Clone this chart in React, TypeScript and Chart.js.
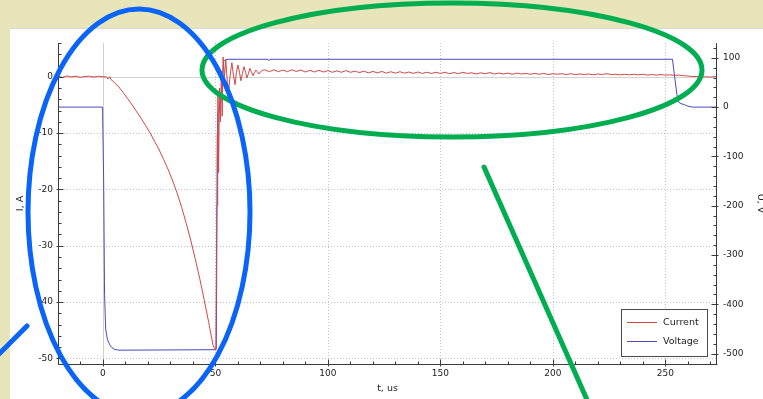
import { useEffect, useRef } from 'react';
import { Chart, registerables } from 'chart.js';

Chart.register(...registerables);

// ---- Current (I, A) ----
const currentPreT = [-20, -18, -16, -14, -12, -10, -8, -6, -4, -2, 0, 1.5, 2.2, 3, 3.6, 5, 7, 9, 11, 13, 15, 17, 19, 21, 23, 25, 27, 29, 31, 33, 35, 37, 39, 41, 43, 45, 47, 49, 50.2];
const currentPreI = [0.1, -0.1, 0.15, 0.0, 0.1, -0.1, 0.05, 0.1, -0.05, 0.1, 0.0, 0.0, -0.4, 0.0, -0.5, -1.0, -1.8, -2.8, -3.9, -5.0, -6.2, -7.4, -8.7, -10.0, -11.5, -13.0, -14.7, -16.5, -18.5, -20.7, -23.2, -26.0, -29.0, -32.3, -35.8, -39.6, -43.6, -47.8, -48.6];

const currentRingT = [50.8, 51.1, 51.4, 51.8, 52.2, 52.6, 53.0, 53.4, 54.0, 54.6, 55.3, 56.0, 56.6, 57.3, 58.0, 58.7, 59.3, 60.0, 60.7, 61.3, 62.0, 62.7, 63.4, 64.0, 64.7, 65.3, 66.0, 66.7, 67.4, 68.0, 68.7, 69.3, 70.0, 71.0];
const currentRingI = [-10, -3, -17, -2, -8, 1, -7, 3.5, 0, 3.0, -1.0, -2.0, 0.5, 2.5, 0.3, -1.4, 0.7, 2.1, 0.8, -0.7, 0.6, 1.8, 0.8, -0.2, 0.6, 1.5, 0.9, 0.2, 0.8, 1.2, 0.9, 0.5, 0.9, 1.15];

const currentSteadyT = [72, 74, 76, 78, 80, 82, 84, 86, 88, 90, 92, 94, 96, 98, 100, 102, 104, 106, 108, 110, 112, 114, 116, 118, 120, 122, 124, 126, 128, 130, 132, 134, 136, 138, 140, 142, 144, 146, 148, 150, 152, 154, 156, 158, 160, 162, 164, 166, 168, 170, 172, 174, 176, 178, 180, 182, 184, 186, 188, 190, 192, 194, 196, 198, 200, 202, 204, 206, 208, 210, 212, 214, 216, 218, 220, 222, 224, 226, 228, 230, 232, 234, 236, 238, 240, 242, 244, 246, 248, 250, 252, 254, 256, 258, 260, 262, 264, 266, 268, 270, 272, 273];
const currentSteadyI = [1.25, 0.9, 1.25, 0.9, 1.2, 0.9, 1.25, 0.95, 1.2, 0.85, 1.15, 0.85, 1.15, 0.85, 1.1, 0.8, 1.05, 0.8, 1.1, 0.8, 1.0, 0.75, 1.0, 0.7, 0.95, 0.7, 0.95, 0.65, 0.9, 0.65, 0.9, 0.65, 0.85, 0.6, 0.85, 0.6, 0.8, 0.6, 0.8, 0.6, 0.8, 0.55, 0.75, 0.55, 0.8, 0.6, 0.7, 0.5, 0.7, 0.55, 0.75, 0.5, 0.65, 0.5, 0.65, 0.45, 0.65, 0.5, 0.6, 0.45, 0.6, 0.45, 0.6, 0.4, 0.55, 0.45, 0.55, 0.4, 0.55, 0.4, 0.5, 0.4, 0.5, 0.35, 0.5, 0.4, 0.55, 0.4, 0.45, 0.35, 0.45, 0.35, 0.45, 0.35, 0.45, 0.3, 0.4, 0.3, 0.4, 0.3, 0.35, 0.25, 0.3, 0.2, 0.15, 0.05, 0.05, -0.05, 0.0, -0.05, 0.05, 0.0];

// ---- Voltage (U, V) ----
const voltageT = [-20, -0.2, 0.3, 0.7, 1.2, 2, 3, 4, 5, 7, 50, 50.4, 50.7, 51.0, 51.5, 52.3, 52.8, 53.2, 53.6, 54.5, 56, 73.3, 73.8, 74.3, 253.2, 254.2, 255.2, 256, 257, 258.5, 260, 262, 273];
const voltageV = [0, 0, -150, -380, -450, -472, -482, -488, -491, -493, -492, -489, -200, -12, -8, 12, 18, 60, 92, 96, 97, 97, 94, 97, 97, 60, 25, 10, 7, 5, 2, 0, 0];

// ---- axes ----
const xRange = [-20, 273];
const yLeftRange = [-51, 6];
const yRightRange = [-521, 130];
const xMajorTicks = [0, 50, 100, 150, 200, 250];
const yLeftMajorTicks = [-50, -40, -30, -20, -10, 0];
const yRightMajorTicks = [-500, -400, -300, -200, -100, 0, 100];

const seriesLabels = ['Current', 'Voltage'];
const RED = '#d04848';
const BLUE = '#4a4ac4';
const FONT = '"DejaVu Sans", Verdana, sans-serif';
const TEXT = '#222222';

function zip(t: number[], v: number[]) {
  return t.map((x, i) => ({ x, y: v[i] }));
}

function minorValues(lo: number, hi: number, step: number) {
  const out: number[] = [];
  const start = Math.ceil(lo / step) * step;
  for (let v = start; v <= hi + 1e-9; v += step) out.push(Math.round(v * 1000) / 1000);
  return out;
}

const decorPlugin = {
  id: 'decor',
  beforeDraw(chart: any) {
    const { ctx, width, height } = chart;
    ctx.save();
    ctx.fillStyle = '#e7e5b9';
    ctx.fillRect(0, 0, width, height);
    ctx.fillStyle = '#ffffff';
    ctx.fillRect(10, 28, width - 10, height - 28);
    ctx.fillStyle = '#d8d8d8';
    ctx.fillRect(10, 28, width - 10, 1);
    ctx.restore();
  },
  beforeDatasetsDraw(chart: any) {
    const { ctx, chartArea: a, scales } = chart;
    ctx.save();
    ctx.lineWidth = 1;
    for (const v of xMajorTicks) {
      const px = Math.round(scales.x.getPixelForValue(v)) + 0.5;
      ctx.setLineDash(v === 0 ? [] : [1, 2]);
      ctx.strokeStyle = v === 0 ? '#d2d2d2' : '#c4c4c4';
      ctx.beginPath();
      ctx.moveTo(px, a.top);
      ctx.lineTo(px, a.bottom);
      ctx.stroke();
    }
    for (const v of yLeftMajorTicks) {
      const py = Math.round(scales.y.getPixelForValue(v)) + 0.5;
      ctx.setLineDash(v === 0 ? [] : [1, 2]);
      ctx.strokeStyle = v === 0 ? '#d2d2d2' : '#c4c4c4';
      ctx.beginPath();
      ctx.moveTo(a.left, py);
      ctx.lineTo(a.right, py);
      ctx.stroke();
    }
    ctx.restore();
  },
  afterDatasetsDraw(chart: any) {
    const { ctx, chartArea: a, scales } = chart;
    ctx.save();
    ctx.setLineDash([]);
    ctx.lineWidth = 1;
    ctx.strokeStyle = '#3a3a3a';
    const L = Math.round(a.left) + 0.5;
    const R = Math.round(a.right) - 0.5;
    const B = Math.round(a.bottom) + 0.5;
    ctx.beginPath();
    ctx.moveTo(L, a.top);
    ctx.lineTo(L, B);
    ctx.lineTo(R + 1, B);
    ctx.moveTo(R, a.top);
    ctx.lineTo(R, B);
    ctx.stroke();
    // ticks
    ctx.beginPath();
    for (const v of minorValues(xRange[0], xRange[1], 10)) {
      const px = Math.round(scales.x.getPixelForValue(v)) + 0.5;
      const major = xMajorTicks.includes(v);
      ctx.moveTo(px, B - (major ? 5 : 3));
      ctx.lineTo(px, B + (major ? 2 : 0));
    }
    for (const v of minorValues(yLeftRange[0], yLeftRange[1], 2)) {
      const py = Math.round(scales.y.getPixelForValue(v)) + 0.5;
      const major = yLeftMajorTicks.includes(v);
      ctx.moveTo(L - (major ? 2 : 0), py);
      ctx.lineTo(L + (major ? 5 : 3), py);
    }
    for (const v of minorValues(yRightRange[0], yRightRange[1], 20)) {
      const py = Math.round(scales.y1.getPixelForValue(v)) + 0.5;
      const major = yRightMajorTicks.includes(v);
      ctx.moveTo(R - (major ? 5 : 3), py);
      ctx.lineTo(R + (major ? 2 : 0), py);
    }
    ctx.stroke();

    // legend box
    const bx = 621.5, by = 309.5, bw = 86, bh = 47;
    ctx.fillStyle = '#ffffff';
    ctx.fillRect(bx, by, bw, bh);
    ctx.strokeStyle = '#4a4a4a';
    ctx.strokeRect(bx, by, bw, bh);
    const ds = chart.data.datasets;
    const rows = [322.5, 341.5];
    ctx.font = `9.5px ${FONT}`;
    ctx.textBaseline = 'middle';
    ctx.textAlign = 'left';
    ds.forEach((d: any, i: number) => {
      ctx.strokeStyle = d.borderColor;
      ctx.lineWidth = 1;
      ctx.beginPath();
      ctx.moveTo(627, rows[i]);
      ctx.lineTo(657, rows[i]);
      ctx.stroke();
      ctx.fillStyle = TEXT;
      ctx.fillText(d.label, 663, rows[i]);
    });
    ctx.restore();
  },
  afterDraw(chart: any) {
    const { ctx } = chart;
    ctx.save();
    ctx.lineWidth = 5;
    ctx.lineCap = 'round';
    ctx.strokeStyle = '#00ad50';
    ctx.beginPath();
    ctx.ellipse(452, 70, 250, 67, 0, 0, Math.PI * 2);
    ctx.stroke();
    ctx.beginPath();
    ctx.moveTo(484, 167);
    ctx.lineTo(588, 402);
    ctx.stroke();
    ctx.strokeStyle = '#0a64f8';
    ctx.beginPath();
    ctx.ellipse(139, 212, 111, 203, 0, 0, Math.PI * 2);
    ctx.stroke();
    ctx.beginPath();
    ctx.moveTo(-2, 355);
    ctx.lineTo(27, 326);
    ctx.stroke();
    ctx.restore();
  },
};

export default function App() {
  const ref = useRef<HTMLCanvasElement | null>(null);
  useEffect(() => {
    if (!ref.current) return;
    const tickFont = { family: FONT, size: 9 };
    const titleFont = { family: FONT, size: 9.5 };
    const chart = new Chart(ref.current, {
      type: 'line',
      data: {
        datasets: [
          {
            label: seriesLabels[0],
            data: [...zip(currentPreT, currentPreI), ...zip(currentRingT, currentRingI), ...zip(currentSteadyT, currentSteadyI)],
            yAxisID: 'y',
            borderColor: RED,
            borderWidth: 1,
            pointRadius: 0,
            tension: 0,
          },
          {
            label: seriesLabels[1],
            data: zip(voltageT, voltageV),
            yAxisID: 'y1',
            borderColor: BLUE,
            borderWidth: 1,
            pointRadius: 0,
            tension: 0,
          },
        ],
      },
      options: {
        responsive: false,
        animation: false,
        events: [],
        layout: { padding: { top: 43, left: 0, right: 0, bottom: 0 } },
        plugins: { legend: { display: false }, tooltip: { enabled: false } },
        scales: {
          x: {
            type: 'linear',
            min: xRange[0],
            max: xRange[1],
            afterFit: (s: any) => { s.height = 35; },
            ticks: { stepSize: 50, includeBounds: false, padding: 4, font: tickFont, color: TEXT, maxRotation: 0 },
            grid: { display: false, drawTicks: false },
            border: { display: false },
            title: { display: true, text: 't, us', font: titleFont, color: TEXT, padding: { top: 0, bottom: 5 } },
          },
          y: {
            type: 'linear',
            position: 'left',
            min: yLeftRange[0],
            max: yLeftRange[1],
            afterFit: (s: any) => { s.width = 58; },
            ticks: { stepSize: 10, includeBounds: false, padding: 5, font: tickFont, color: TEXT },
            grid: { display: false, drawTicks: false },
            border: { display: false },
            title: { display: true, text: 'I, A', font: titleFont, color: TEXT, padding: { top: 15, bottom: 0 } },
          },
          y1: {
            type: 'linear',
            position: 'right',
            min: yRightRange[0],
            max: yRightRange[1],
            afterFit: (s: any) => { s.width = 46; },
            ticks: { stepSize: 100, includeBounds: false, padding: 6, font: tickFont, color: TEXT },
            grid: { display: false, drawTicks: false },
            border: { display: false },
            title: { display: true, text: 'U, V', font: titleFont, color: TEXT, padding: { top: -3, bottom: 0 } },
          },
        },
      },
      plugins: [decorPlugin],
    } as any);
    return () => chart.destroy();
  }, []);
  return (
    <div style={{ position: 'fixed', left: 0, top: 0, width: 763, height: 399 }}>
      <canvas ref={ref} width={763} height={399} style={{ display: 'block', width: 763, height: 399 }} />
    </div>
  );
}
